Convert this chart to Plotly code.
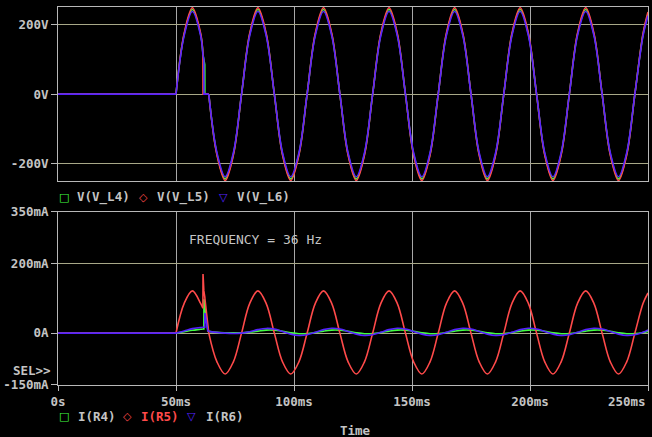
import plotly.graph_objects as go

# ---------------- data (time in ms) ----------------
# short linear part: flat start and the switching glitch
t_lin = [0, 50, None, 61.4, 61.45, 61.8, 61.85, 62.2, 62.25, 63.5, 63.89]
# smooth part (sampled every 1/8 period of the 36 Hz wave)
t_spl = [50, 53.47, 56.94, 60.42, 61.4, None,
         63.89, 67.36, 70.83, 74.31, 77.78, 81.25, 84.72, 88.19,
         91.67, 95.14, 98.61, 102.08, 105.56, 109.03, 112.5, 115.97,
         119.44, 122.92, 126.39, 129.86, 133.33, 136.81, 140.28, 143.75,
         147.22, 150.69, 154.17, 157.64, 161.11, 164.58, 168.06, 171.53,
         175.0, 178.47, 181.94, 185.42, 188.89, 192.36, 195.83, 199.31,
         202.78, 206.25, 209.72, 213.19, 216.67, 220.14, 223.61, 227.08,
         230.56, 234.03, 237.5, 240.97, 244.44, 247.92, 250]

# voltages (V)
v_l4_lin = [0, 0, None, 115, 112, 102, 100, 85, 0, 0, 0]
v_l5_lin = [0, 0, None, 118, 0, 0, 0, 0, 0, 0, 0]
v_l6_lin = [0, 0, None, 112, 110, 100, 0, 0, 0, 0, 0]

v_l4_spl = [0, 172, 243, 172, 115, None,
            0, -172, -243, -172, 0, 172, 243, 172,
            0, -172, -243, -172, 0, 172, 243, 172,
            0, -172, -243, -172, 0, 172, 243, 172,
            0, -172, -243, -172, 0, 172, 243, 172,
            0, -172, -243, -172, 0, 172, 243, 172,
            0, -172, -243, -172, 0, 172, 243, 172,
            0, -172, -243, -172, 0, 172, 231]
v_l5_spl = [0, 175, 248, 175, 118, None,
            0, -175, -248, -175, 0, 175, 248, 175,
            0, -175, -248, -175, 0, 175, 248, 175,
            0, -175, -248, -175, 0, 175, 248, 175,
            0, -175, -248, -175, 0, 175, 248, 175,
            0, -175, -248, -175, 0, 175, 248, 175,
            0, -175, -248, -175, 0, 175, 248, 175,
            0, -175, -248, -175, 0, 175, 236]
v_l6_spl = [0, 168, 237, 168, 112, None,
            0, -168, -237, -168, 0, 168, 237, 168,
            0, -168, -237, -168, 0, 168, 237, 168,
            0, -168, -237, -168, 0, 168, 237, 168,
            0, -168, -237, -168, 0, 168, 237, 168,
            0, -168, -237, -168, 0, 168, 237, 168,
            0, -168, -237, -168, 0, 168, 237, 168,
            0, -168, -237, -168, 0, 168, 225]

# currents (mA)
i_r4_lin = [0, 0, None, 12, 12, 12, 98, 75, 70, 6, 5]
i_r5_lin = [0, 0, None, 72, 171, 122, 112, 105, 100, 10, 0]
i_r6_lin = [0, 0, None, 17, 17, 17, 17, 17, 58, 6, 5]

i_r4_spl = [0, 4, 8, 11, 12, None,
            5, 2, 1, 1, 1, 3, 5.8, 8.7,
            8.5, 5.4, 1.2, -1.7, -1.5, 1.6, 5.8, 8.7,
            8.5, 5.4, 1.2, -1.7, -1.5, 1.6, 5.8, 8.7,
            8.5, 5.4, 1.2, -1.7, -1.5, 1.6, 5.8, 8.7,
            8.5, 5.4, 1.2, -1.7, -1.5, 1.6, 5.8, 8.7,
            8.5, 5.4, 1.2, -1.7, -1.5, 1.6, 5.8, 8.7,
            8.5, 5.4, 1.2, -1.7, -1.5, 1.6, 5]
i_r5_spl = [0, 86, 122, 86, 72, None,
            0, -83, -118, -83, 0, 86, 122, 86,
            0, -83, -118, -83, 0, 86, 122, 86,
            0, -83, -118, -83, 0, 86, 122, 86,
            0, -83, -118, -83, 0, 86, 122, 86,
            0, -83, -118, -83, 0, 86, 122, 86,
            0, -83, -118, -83, 0, 86, 122, 86,
            0, -83, -118, -83, 0, 86, 116]
i_r6_spl = [0, 6, 13, 16, 17, None,
            5, 2, 0, -1, 0, 4, 10, 13.5,
            11.8, 4.8, -3.0, -6.9, -4.8, 2.2, 10.0, 13.9,
            11.8, 4.8, -3.0, -6.9, -4.8, 2.2, 10.0, 13.9,
            11.8, 4.8, -3.0, -6.9, -4.8, 2.2, 10.0, 13.9,
            11.8, 4.8, -3.0, -6.9, -4.8, 2.2, 10.0, 13.9,
            11.8, 4.8, -3.0, -6.9, -4.8, 2.2, 10.0, 13.9,
            11.8, 4.8, -3.0, -6.9, -4.8, 2.2, 9]

x_tick_vals = [0, 50, 100, 150, 200, 250]
x_tick_text = ["0s", "50ms", "100ms", "150ms", "200ms", "250ms"]
v_tick_vals = [200, 0, -200]
v_tick_text = ["200V", "0V", "-200V"]
i_tick_vals = [350, 200, 0, -150]
i_tick_text = ["350mA", "200mA", "0A", "-150mA"]

top_names = ["V(V_L4)", "V(V_L5)", "V(V_L6)"]
bot_names = ["I(R4)", "I(R5)", "I(R6)"]

# ---------------- styles ----------------
GREEN = "#40ff40"
RED = "#ff4a4a"
BLUE = "#5522ff"
GRAY = "#c4c4c4"
BORDER = "#b8b8b8"
HGRID = "#a8a888"
VGRID = "#a8a8a8"
MONO = "DejaVu Sans Mono"

fig = go.Figure()


def add(t, y, color, shape, xa, ya):
    fig.add_trace(go.Scatter(
        x=t, y=y, mode="lines", xaxis=xa, yaxis=ya,
        line=dict(color=color, width=1.6, shape=shape, smoothing=1.0),
        connectgaps=False, showlegend=False, hoverinfo="skip"))


for lin, spl, col in [(v_l4_lin, v_l4_spl, GREEN), (v_l5_lin, v_l5_spl, RED),
                      (v_l6_lin, v_l6_spl, BLUE)]:
    add(t_lin, lin, col, "linear", "x", "y")
    add(t_spl, spl, col, "spline", "x", "y")

for lin, spl, col in [(i_r4_lin, i_r4_spl, GREEN), (i_r5_lin, i_r5_spl, RED),
                      (i_r6_lin, i_r6_spl, BLUE)]:
    add(t_lin, lin, col, "linear", "x2", "y2")
    add(t_spl, spl, col, "spline", "x2", "y2")

tickfont = dict(family=MONO, size=12.5, color=GRAY, weight="bold")

common_x = dict(range=[0, 250], tickvals=x_tick_vals, showgrid=True,
                gridcolor=VGRID, gridwidth=1, showline=True, linecolor=BORDER,
                linewidth=1, mirror=True, zeroline=False, automargin=False)
common_y = dict(showgrid=True, gridcolor=HGRID, gridwidth=1, showline=True,
                linecolor=BORDER, linewidth=1, mirror=True, zeroline=False,
                ticks="outside", ticklen=6, tickcolor=BORDER, tickfont=tickfont,
                automargin=False)

fig.update_layout(
    width=652, height=437,
    margin=dict(l=58, r=4, t=7, b=52, autoexpand=False),
    paper_bgcolor="black", plot_bgcolor="black",
    showlegend=False,
    xaxis=dict(domain=[0, 1], anchor="y", showticklabels=False, ticks="",
               **common_x),
    yaxis=dict(domain=[0.5389, 1], anchor="x", range=[-250, 250],
               tickvals=v_tick_vals, ticktext=v_tick_text, **common_y),
    xaxis2=dict(domain=[0, 1], anchor="y2", ticks="outside", ticklen=5,
                tickcolor=BORDER, ticktext=x_tick_text[:-1] + [""],
                tickfont=tickfont, **common_x),
    yaxis2=dict(domain=[0, 0.4577], anchor="x2", range=[-150, 350],
                tickvals=i_tick_vals, ticktext=i_tick_text, **common_y),
)


def px_x(p):
    return (p - 58) / 590.0


def px_y(p):
    return (385 - p) / 378.0


ann = []
# last x tick label kept inside the frame
ann.append(dict(x=250, y=px_y(401), xref="x2", yref="paper", text=x_tick_text[-1],
                xanchor="right", yanchor="middle", showarrow=False, font=tickfont))

# legends
sym_font = lambda c: dict(family="DejaVu Sans", size=11, color=c)
top_sym_x = [63.5, 143, 223]
top_txt_x = [75, 155, 235]
bot_sym_x = [63.5, 127, 191]
bot_txt_x = [76, 139, 204]
symbols = ["\u25a1", "\u25c7", "\u25bd"]
cols = [GREEN, RED, BLUE]
for i in range(3):
    ann.append(dict(x=px_x(top_sym_x[i]), y=px_y(197), xref="paper", yref="paper",
                    text=symbols[i], showarrow=False, xanchor="center",
                    yanchor="middle", font=sym_font(cols[i])))
    ann.append(dict(x=px_x(top_txt_x[i]), y=px_y(197), xref="paper", yref="paper",
                    text=top_names[i], showarrow=False, xanchor="left",
                    yanchor="middle", font=tickfont))
    ann.append(dict(x=px_x(bot_sym_x[i]), y=px_y(416), xref="paper", yref="paper",
                    text=symbols[i], showarrow=False, xanchor="center",
                    yanchor="middle", font=sym_font(cols[i])))
    bf = dict(tickfont)
    if i == 1:
        bf["color"] = RED
    ann.append(dict(x=px_x(bot_txt_x[i]), y=px_y(416), xref="paper", yref="paper",
                    text=bot_names[i], showarrow=False, xanchor="left",
                    yanchor="middle", font=bf))

ann.append(dict(x=px_x(338), y=px_y(430), xref="paper", yref="paper", text="Time",
                showarrow=False, xanchor="left", yanchor="middle", font=tickfont))
ann.append(dict(x=px_x(53), y=px_y(370), xref="paper", yref="paper", text="SEL>>",
                showarrow=False, xanchor="right", yanchor="middle", font=tickfont))
ann.append(dict(x=px_x(187), y=px_y(239), xref="paper", yref="paper",
                text="FREQUENCY = 36 Hz", showarrow=False, xanchor="left",
                yanchor="middle", font=dict(family=MONO, size=13, color=GRAY)))

fig.update_layout(annotations=ann)

fig.write_html("out.html",
               config={"displayModeBar": False, "staticPlot": True},
               post_script="document.body.style.margin='0';"
                           "document.body.style.background='black';")
